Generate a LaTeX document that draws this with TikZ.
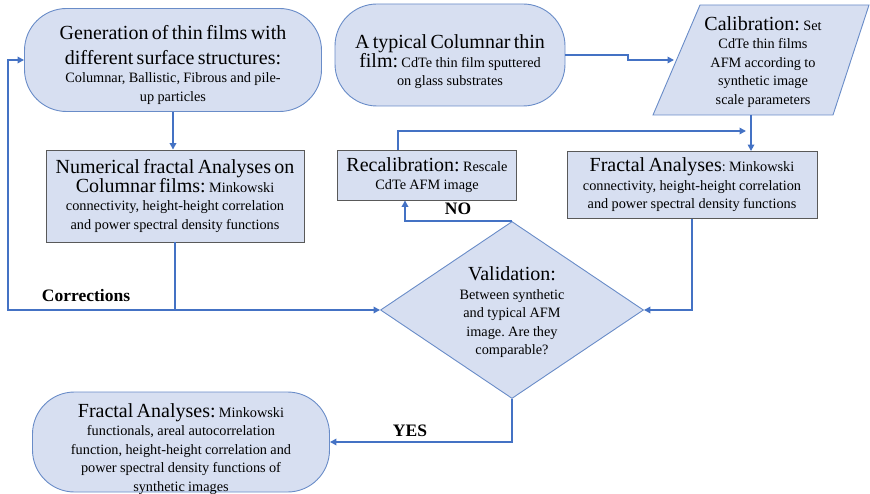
\documentclass[tikz,border=0pt]{standalone}
\usepackage{fontspec}
\setmainfont{Liberation Serif}
\usetikzlibrary{shapes.geometric,arrows.meta}
\frenchspacing

\definecolor{boxfill}{RGB}{215,223,241}
\definecolor{boxline}{RGB}{105,140,200}
\definecolor{flowblue}{RGB}{68,114,196}

\newcommand{\headfont}{\fontsize{20}{25}\selectfont}
\newcommand{\bodyfont}{\fontsize{14.3}{18.5}\selectfont}
\newcommand{\lift}[1]{\rule{0pt}{#1}}

\tikzset{
    stadium/.style={draw=boxline, fill=boxfill, line width=0.9pt, rounded corners=42pt,
        align=center, inner sep=0pt},
    procbox/.style={draw=black!65, fill=boxfill, line width=0.9pt, align=center, inner sep=0pt},
    decision/.style={diamond, draw=boxline, fill=boxfill, line width=0.9pt, align=center,
        inner sep=0pt, aspect=1.486},
    flow/.style={draw=flowblue, line width=2pt, -{Triangle[length=6.5pt,width=6.5pt]}},
    tag/.style={font=\bfseries\fontsize{17.5}{20}\selectfont}
}

\begin{document}
\begin{tikzpicture}[x=1pt, y=-1pt]
    \useasboundingbox (0,0) rectangle (870,494);

    % Top row
    \node[stadium, minimum width=297, minimum height=103, text width=290] (gen) at (173,60)
        {\headfont\lift{24pt}Generation of thin films with\\ different surface structures:\par
         \bodyfont Columnar, Ballistic, Fibrous and pile-\\ up particles\par};
    \node[stadium, minimum width=230, minimum height=102, text width=225] (typical) at (450,55)
        {\headfont\lift{28pt}A typical Columnar thin\par film: \bodyfont CdTe thin film sputtered\\
         on glass substrates\par};
    \draw[draw=boxline, fill=boxfill, line width=0.9pt] (653,115) -- (833,115) -- (869,5) -- (700,5) -- cycle;
    \node[align=center, text width=160, inner sep=0pt] (calib) at (763,62)
        {\headfont Calibration: \bodyfont Set\\ CdTe thin films\\ AFM according to\\ synthetic image\\
         scale parameters\par};

    % Middle row
    \node[procbox, minimum width=258, minimum height=92, text width=255] (num) at (175,196)
        {\headfont Numerical fractal Analyses on\par Columnar films: \bodyfont Minkowski\\
         connectivity, height-height correlation\\ and power spectral density functions\par};
    \node[procbox, minimum width=179, minimum height=50, text width=175] (recal) at (427,175)
        {\headfont Recalibration: \bodyfont Rescale\\ CdTe AFM image\par};
    \node[procbox, minimum width=250, minimum height=67, text width=245] (fa) at (692,185)
        {\headfont Fractal Analyses\bodyfont: Minkowski\\ connectivity, height-height correlation\\
         and power spectral density functions\par};

    % Decision
    \node[decision, minimum width=263, minimum height=177, text width=120] (valid) at (512,310)
        {\headfont\lift{19pt}Validation:\par
         \bodyfont Between synthetic\\ and typical AFM\\ image. Are they\\ comparable?\par};

    % Result
    \node[stadium, minimum width=297, minimum height=100] (final) at (181,442) {};
    \node[align=center, text width=290, inner sep=0pt] (finaltext) at (181,449)
        {\headfont Fractal Analyses: \bodyfont Minkowski\\ functionals, areal autocorrelation\\
         function, height-height correlation and\\ power spectral density functions of\\
         synthetic images\par};

    % Connectors
    \coordinate (cj) at (num.south |- valid.west);
    \coordinate (loop) at (8,310);
    \coordinate (calin) at (674,60);
    \coordinate (calout) at (751,115);
    \coordinate (merge) at (751,131);

    \draw[flow] (gen.south) -- (gen.south |- num.north);
    \draw[flow] (num.south) -- (cj) -- (valid.west);
    \draw[flow] (cj) -- (loop) |- (gen.west);
    \draw[flow] (typical.east) -- ++(63,0) -- ++(0,5) -- (calin);
    \draw[flow] (calout) -- (calout |- fa.north);
    \draw[flow] ([xshift=-29pt]recal.north) |- ([xshift=-5pt]merge);
    \draw[flow] (fa.south) |- (valid.east);
    \draw[flow] (valid.north) -| ([xshift=-22pt]recal.south);
    \draw[flow] (valid.south) |- (final.east);

    % Labels
    \node[tag] (corr) at (86,296) {Corrections};
    \node[tag] (no) at (458,209) {NO};
    \node[tag] (yes) at (410,431) {YES};
\end{tikzpicture}
\end{document}
